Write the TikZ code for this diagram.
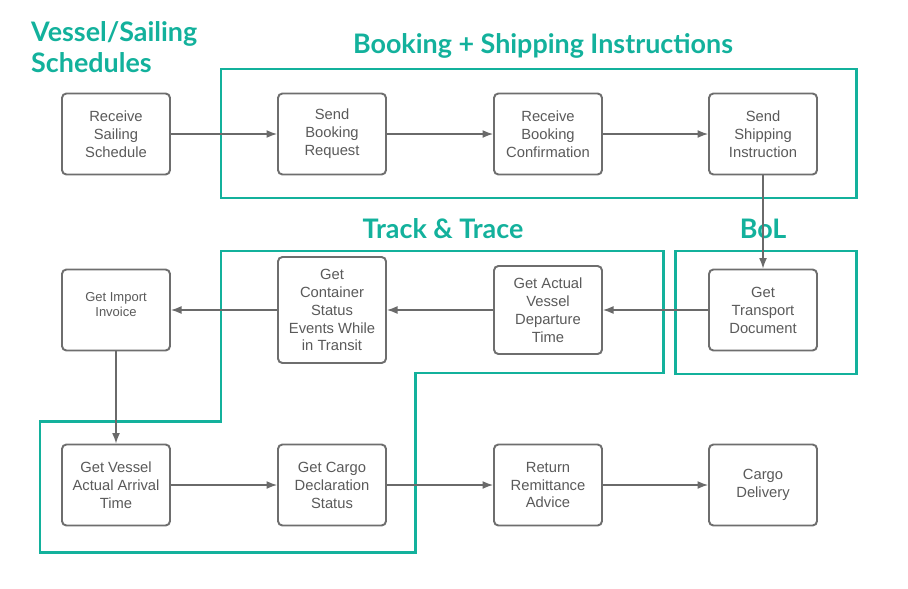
\documentclass[tikz,border=0pt]{standalone}
\usepackage{fontspec}
\setmainfont{Liberation Sans}
\newfontfamily\titlefont{Lato}
\usetikzlibrary{arrows.meta}
\definecolor{teal1}{HTML}{13B19C}
\definecolor{boxgray}{HTML}{6E6E6E}
\definecolor{txtgray}{HTML}{5A5A5A}
\definecolor{arrgray}{HTML}{6A6A6A}
\tikzset{
  stepbox/.style={draw=boxgray, line width=1.1pt, rounded corners=2.5pt, fill=white,
    minimum width=2.16cm, minimum height=1.62cm, align=center, text=txtgray,
    font=\fontsize{8.4}{10.2}\selectfont},
  flow/.style={draw=arrgray, line width=0.7pt, -{Latex[length=6pt,width=4.5pt]}},
  frame/.style={draw=teal1, line width=1.7pt},
  heading/.style={text=teal1, font=\titlefont\bfseries\fontsize{15.3}{17.6}\selectfont}
}
\begin{document}
\begin{tikzpicture}[x=0.02cm, y=-0.02cm]
    \useasboundingbox (0,0) rectangle (908,588);
    % frames
    \draw[frame] (221,69) rectangle (856,198);
    \draw[frame] (675,251) rectangle (856,374);
    \draw[frame] (221,251) -- (663,251) -- (663,373) -- (415,373) -- (415,552)
        -- (40,552) -- (40,421) -- (221,421) -- cycle;

    % headings
    \node[heading, anchor=west, align=left] (hvs) at (25,47) {Vessel/Sailing\\Schedules};
    \node[heading] (hbk) at (543,46) {Booking + Shipping Instructions};
    \node[heading] (htt) at (443,229) {Track \& Trace};
    \node[heading] (hbl) at (763,229) {BoL};

    % first row
    \node[stepbox] (rss) at (116,134) {Receive\\Sailing\\Schedule};
    \node[stepbox] (sbr) at (332,134) {Send\\Booking\\Request};
    \node[stepbox] (rbc) at (548,134) {Receive\\Booking\\Confirmation};
    \node[stepbox] (ssi) at (763,134) {Send\\Shipping\\Instruction};

    % second row
    \node[stepbox] (gtd) at (763,310) {Get\\Transport\\Document};
    \node[stepbox, minimum height=1.76cm] (gad) at (548,310) {Get Actual\\Vessel\\Departure\\Time};
    \node[stepbox, minimum height=2.12cm] (gcs) at (332,310) {Get\\Container\\Status\\Events While\\in Transit};
    \node[stepbox, font=\fontsize{7.4}{8.6}\selectfont, text depth=6pt] (gii) at (116,310) {Get Import\\Invoice};

    % third row
    \node[stepbox] (gva) at (116,485) {Get Vessel\\Actual Arrival\\Time};
    \node[stepbox] (gcd) at (332,485) {Get Cargo\\Declaration\\Status};
    \node[stepbox] (rra) at (548,485) {Return\\Remittance\\Advice};
    \node[stepbox] (cdl) at (763,485) {Cargo\\Delivery};

    % connectors
    \draw[flow] (rss) -- (sbr);
    \draw[flow] (sbr) -- (rbc);
    \draw[flow] (rbc) -- (ssi);
    \draw[flow] (ssi) -- (gtd);
    \draw[flow] (gtd) -- (gad);
    \draw[flow] (gad) -- (gcs);
    \draw[flow] (gcs) -- (gii);
    \draw[flow] (gii) -- (gva);
    \draw[flow] (gva) -- (gcd);
    \draw[flow] (gcd) -- (rra);
    \draw[flow] (rra) -- (cdl);
\end{tikzpicture}
\end{document}
